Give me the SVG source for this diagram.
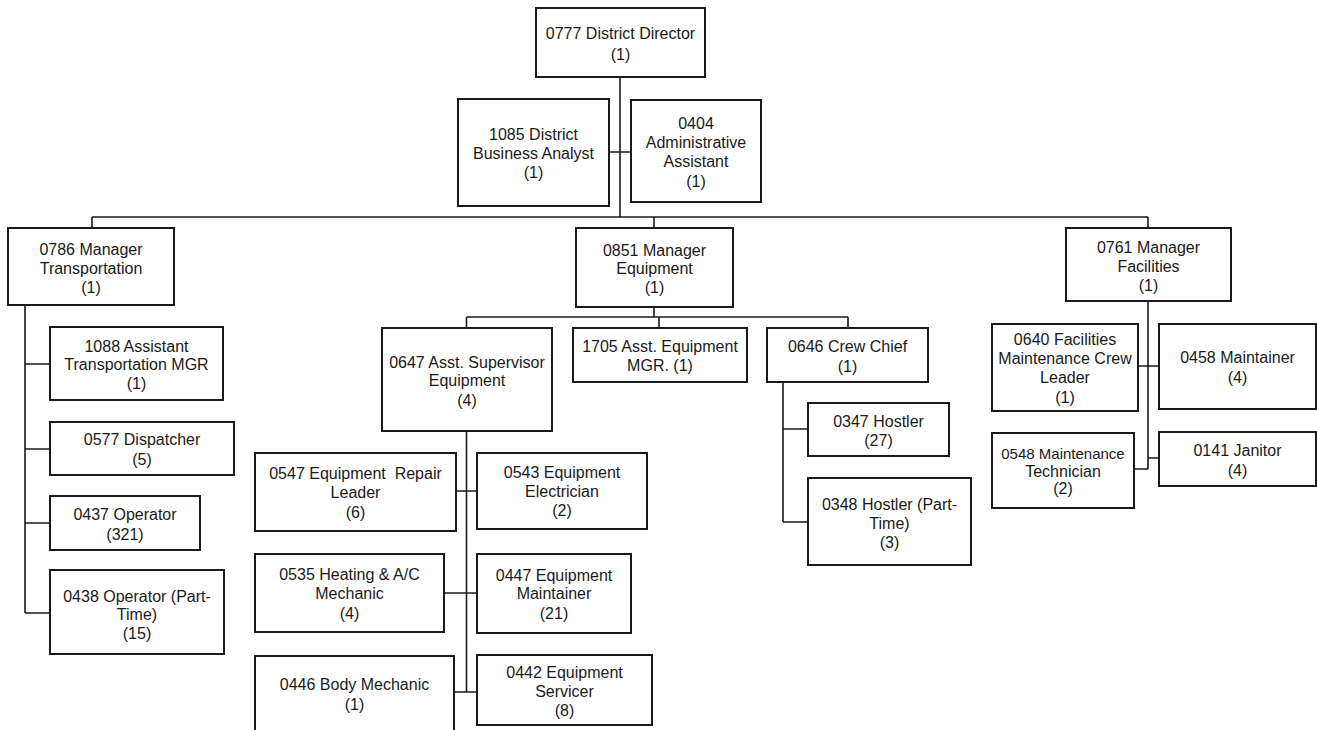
<svg xmlns="http://www.w3.org/2000/svg" width="1317" height="730" viewBox="0 0 1317 730">
<style>
.b{fill:#fff;stroke:#1a1a1a;stroke-width:2}
text{font-family:"Liberation Sans",Arial,sans-serif;font-size:16px;fill:#1a1a1a;text-anchor:middle}
.s{font-size:15px}
.c{fill:none;stroke:#1a1a1a;stroke-width:1.6}
</style>
<rect width="1317" height="730" fill="#fff"/>
<g id="connectors" class="c">
<path d="M620,77V217M609,152H631"/>
<path d="M92,217H1148M92,217V228M654,217V228M1148,217V228"/>
<path d="M25,305V613M25,364H50M25,449H50M25,523H50M25,613H50"/>
<path d="M654,307V317M466.5,317H848M466.5,317V328M659,317V328M848,317V328"/>
<path d="M466.5,431V692M456,491H477M444,593H477M454,692H477"/>
<path d="M783,382V522M783,429H808M783,522H808"/>
<path d="M1148,301V469M1138,366H1159M1148,458H1159M1134,469H1148"/>
</g>
<g id="n0777"><rect class="b" x="536" y="8" width="169" height="69"/><text x="620.5" y="38.5">0777 District Director</text><text x="620.5" y="59.5">(1)</text></g>
<g id="n1085"><rect class="b" x="458" y="99" width="151" height="107"/><text x="533.5" y="140">1085 District</text><text x="533.5" y="159">Business Analyst</text><text x="533.5" y="178">(1)</text></g>
<g id="n0404"><rect class="b" x="631" y="100" width="130" height="102"/><text x="696" y="128.5">0404</text><text x="696" y="147.5">Administrative</text><text x="696" y="166.5">Assistant</text><text x="696" y="186.5">(1)</text></g>
<g id="n0786"><rect class="b" x="8" y="228" width="166" height="77"/><text x="91" y="254.5">0786 Manager</text><text x="91" y="273.5">Transportation</text><text x="91" y="292.5">(1)</text></g>
<g id="n1088"><rect class="b" x="50" y="327" width="173" height="73"/><text x="136.5" y="351.5">1088 Assistant</text><text x="136.5" y="369.5">Transportation MGR</text><text x="136.5" y="388.5">(1)</text></g>
<g id="n0577"><rect class="b" x="50" y="422" width="184" height="53"/><text x="142" y="444.5">0577 Dispatcher</text><text x="142" y="464.5">(5)</text></g>
<g id="n0437"><rect class="b" x="50" y="496" width="150" height="54"/><text x="125" y="519.5">0437 Operator</text><text x="125" y="539.5">(321)</text></g>
<g id="n0438"><rect class="b" x="50" y="570" width="174" height="84"/><text x="137" y="601.5">0438 Operator (Part-</text><text x="137" y="619.5">Time)</text><text x="137" y="638.5">(15)</text></g>
<g id="n0851"><rect class="b" x="576" y="228" width="157" height="79"/><text x="654.5" y="255.5">0851 Manager</text><text x="654.5" y="273.5">Equipment</text><text x="654.5" y="292.5">(1)</text></g>
<g id="n0647"><rect class="b" x="382" y="328" width="170" height="103"/><text x="467" y="367.5">0647 Asst. Supervisor</text><text x="467" y="385.5">Equipment</text><text x="467" y="405.5">(4)</text></g>
<g id="n1705"><rect class="b" x="573" y="328" width="174" height="54"/><text x="660" y="351.5">1705 Asst. Equipment</text><text x="660" y="370.5">MGR. (1)</text></g>
<g id="n0646"><rect class="b" x="767" y="328" width="161" height="54"/><text x="847.5" y="351.5">0646 Crew Chief</text><text x="847.5" y="371.5">(1)</text></g>
<g id="n0347"><rect class="b" x="808" y="403" width="141" height="53"/><text x="878.5" y="426.5">0347 Hostler</text><text x="878.5" y="445.5">(27)</text></g>
<g id="n0348"><rect class="b" x="808" y="478" width="163" height="87"/><text x="889.5" y="509.5">0348 Hostler (Part-</text><text x="889.5" y="528.5">Time)</text><text x="889.5" y="547.5">(3)</text></g>
<g id="n0547"><rect class="b" x="255" y="453" width="201" height="78"/><text x="355.5" y="478.5" xml:space="preserve">0547 Equipment  Repair</text><text x="355.5" y="497.5">Leader</text><text x="355.5" y="517.5">(6)</text></g>
<g id="n0543"><rect class="b" x="477" y="453" width="170" height="76"/><text x="562" y="477.5">0543 Equipment</text><text x="562" y="496.5">Electrician</text><text x="562" y="515.5">(2)</text></g>
<g id="n0535"><rect class="b" x="255" y="554" width="189" height="78"/><text x="349.5" y="579.5">0535 Heating &amp; A/C</text><text x="349.5" y="598.5">Mechanic</text><text x="349.5" y="618.5">(4)</text></g>
<g id="n0447"><rect class="b" x="477" y="554" width="154" height="79"/><text x="554" y="580.5">0447 Equipment</text><text x="554" y="598.5">Maintainer</text><text x="554" y="618.5">(21)</text></g>
<g id="n0446"><rect class="b" x="255" y="656" width="199" height="90"/><text x="354.5" y="689.5">0446 Body Mechanic</text><text x="354.5" y="709.5">(1)</text></g>
<g id="n0442"><rect class="b" x="477" y="655" width="175" height="70"/><text x="564.5" y="677.5">0442 Equipment</text><text x="564.5" y="696.5">Servicer</text><text x="564.5" y="715.5">(8)</text></g>
<g id="n0761"><rect class="b" x="1066" y="228" width="165" height="73"/><text x="1148.5" y="252.5">0761 Manager</text><text x="1148.5" y="271.5">Facilities</text><text x="1148.5" y="290.5">(1)</text></g>
<g id="n0640"><rect class="b" x="992" y="324" width="146" height="87"/><text x="1065" y="344.5">0640 Facilities</text><text x="1065" y="363.5">Maintenance Crew</text><text x="1065" y="382.5">Leader</text><text x="1065" y="402.5">(1)</text></g>
<g id="n0458"><rect class="b" x="1159" y="324" width="157" height="85"/><text x="1237.5" y="362.5">0458 Maintainer</text><text x="1237.5" y="382.5">(4)</text></g>
<g id="n0548"><rect class="b" x="992" y="433" width="142" height="75"/><text class="s" x="1063" y="458.5">0548 Maintenance</text><text x="1063" y="476.5">Technician</text><text x="1063" y="493.5">(2)</text></g>
<g id="n0141"><rect class="b" x="1159" y="432" width="157" height="54"/><text x="1237.5" y="455.5">0141 Janitor</text><text x="1237.5" y="475.5">(4)</text></g>
</svg>
